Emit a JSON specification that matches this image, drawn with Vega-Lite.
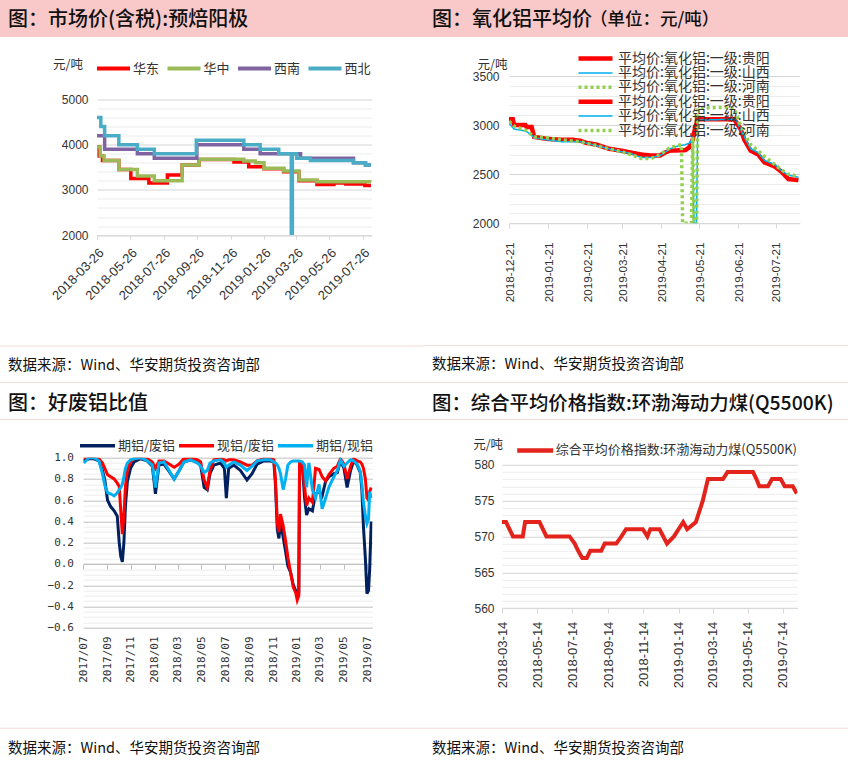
{
"$schema": "https://vega.github.io/schema/vega-lite/v6.json",
"background": "white",
"padding": 0,
"spacing": 10,
"resolve": {"scale": {"color": "independent", "strokeDash": "independent", "strokeWidth": "independent"}, "legend": {"color": "independent", "strokeDash": "independent", "strokeWidth": "independent"}},
"config": {
  "font": "Noto Sans CJK SC",
  "view": {"stroke": null},
  "axis": {"labelFont": "Liberation Sans", "labelFontSize": 12, "labelColor": "#333333", "titleFont": "Noto Sans CJK SC", "titleFontWeight": "normal", "titleColor": "#333333", "titleFontSize": 12.5, "domainColor": "#d9d9d9", "tickColor": "#d9d9d9", "labelFlush": false, "labelOverlap": false, "labelBound": false},
  "legend": {"labelFont": "Noto Sans CJK SC", "labelFontSize": 13, "labelColor": "#333333", "padding": 0, "labelLimit": 400, "symbolType": "stroke"},
  "title": {"font": "Noto Sans CJK SC", "fontSize": 20, "fontWeight": 500, "color": "#111111", "anchor": "start", "frame": "group"},
  "line": {"strokeCap": "butt"}
},
"vconcat": [
{"spacing": 0, "resolve": {"scale": {"color": "independent", "strokeDash": "independent", "strokeWidth": "independent"}, "legend": {"color": "independent", "strokeDash": "independent", "strokeWidth": "independent"}}, "hconcat": [
 {"spacing": 21.5, "resolve": {"scale": {"color": "independent"}, "legend": {"color": "independent"}}, "vconcat": [
  {"width": 424, "height": 37, "data": {"values": [{}]}, "mark": {"type": "point", "size": 0, "opacity": 0}, "view": {"fill": "#F9C8C8", "stroke": null},
   "title": {"text": "图：市场价(含税):预焙阳极", "orient": "bottom", "offset": -17, "baseline": "middle", "dx": 8}},
  {"spacing": 0, "resolve": {"scale": {"color": "independent"}, "legend": {"color": "independent"}}, "vconcat": [
   {"bounds": "flush", "spacing": 0, "resolve": {"scale": {"color": "independent"}, "legend": {"color": "independent"}}, "hconcat": [
    {"width": 96.5, "height": 245.3, "data": {"values": [{}]}, "mark": {"type": "point", "size": 0, "opacity": 0}, "view": {"fill": "white", "stroke": null}},
    {"width": 274.5, "height": 135.6,
    "data": {"values": [
     {"d":"2018/03/26","s":"华东","v":3950},{"d":"2018/03/30","s":"华东","v":3750},{"d":"2018/04/05","s":"华东","v":3650},{"d":"2018/05/05","s":"华东","v":3450},{"d":"2018/05/27","s":"华东","v":3250},{"d":"2018/06/29","s":"华东","v":3150},{"d":"2018/08/02","s":"华东","v":3330},{"d":"2018/08/29","s":"华东","v":3550},{"d":"2018/09/29","s":"华东","v":3670},{"d":"2018/12/02","s":"华东","v":3620},{"d":"2018/12/29","s":"华东","v":3510},{"d":"2019/01/26","s":"华东","v":3470},{"d":"2019/03/03","s":"华东","v":3400},{"d":"2019/03/31","s":"华东","v":3200},{"d":"2019/05/03","s":"华东","v":3120},{"d":"2019/06/03","s":"华东","v":3150},{"d":"2019/06/25","s":"华东","v":3130},{"d":"2019/07/30","s":"华东","v":3100},{"d":"2019/08/10","s":"华东","v":3100},
     {"d":"2018/03/26","s":"华中","v":3950},{"d":"2018/04/01","s":"华中","v":3750},{"d":"2018/04/08","s":"华中","v":3650},{"d":"2018/05/05","s":"华中","v":3450},{"d":"2018/06/08","s":"华中","v":3310},{"d":"2018/07/09","s":"华中","v":3200},{"d":"2018/08/29","s":"华中","v":3550},{"d":"2018/09/29","s":"华中","v":3680},{"d":"2018/12/20","s":"华中","v":3640},{"d":"2019/01/10","s":"华中","v":3600},{"d":"2019/01/26","s":"华中","v":3480},{"d":"2019/03/03","s":"华中","v":3420},{"d":"2019/03/31","s":"华中","v":3220},{"d":"2019/05/03","s":"华中","v":3180},{"d":"2019/08/10","s":"华中","v":3170},
     {"d":"2018/03/26","s":"西南","v":4200},{"d":"2018/04/09","s":"西南","v":3900},{"d":"2018/06/08","s":"西南","v":3800},{"d":"2018/07/09","s":"西南","v":3700},{"d":"2018/09/25","s":"西南","v":4000},{"d":"2018/12/20","s":"西南","v":3900},{"d":"2019/01/19","s":"西南","v":3800},{"d":"2019/04/03","s":"西南","v":3700},{"d":"2019/07/09","s":"西南","v":3600},{"d":"2019/07/31","s":"西南","v":3550},{"d":"2019/08/10","s":"西南","v":3550},
     {"d":"2018/03/26","s":"西北","v":4600},{"d":"2018/04/02","s":"西北","v":4400},{"d":"2018/04/09","s":"西北","v":4200},{"d":"2018/05/05","s":"西北","v":4000},{"d":"2018/06/08","s":"西北","v":3900},{"d":"2018/07/09","s":"西北","v":3800},{"d":"2018/09/24","s":"西北","v":4100},{"d":"2018/12/20","s":"西北","v":4000},{"d":"2019/01/19","s":"西北","v":3900},{"d":"2019/02/22","s":"西北","v":3800},{"d":"2019/03/17","s":"西北","v":2000},{"d":"2019/03/19","s":"西北","v":3800},{"d":"2019/03/27","s":"西北","v":3700},{"d":"2019/04/21","s":"西北","v":3650},{"d":"2019/07/09","s":"西北","v":3600},{"d":"2019/07/31","s":"西北","v":3550},{"d":"2019/08/10","s":"西北","v":3550}
    ]},
    "mark": {"type": "line", "interpolate": "step-after", "strokeWidth": 3.5, "clip": true},
    "encoding": {
     "x": {"field": "d", "type": "temporal", "scale": {"domain": [{"year":2018,"month":3,"date":26},{"year":2019,"month":8,"date":11}]},
      "axis": {"title": null, "grid": false, "format": "%Y-%m-%d", "labelAngle": -45, "labelFontSize": 13, "tickSize": 4, "labelPadding": 7,
       "values": [{"year":2018,"month":3,"date":26},{"year":2018,"month":5,"date":26},{"year":2018,"month":7,"date":26},{"year":2018,"month":9,"date":26},{"year":2018,"month":11,"date":26},{"year":2019,"month":1,"date":26},{"year":2019,"month":3,"date":26},{"year":2019,"month":5,"date":26},{"year":2019,"month":7,"date":26}]}},
     "y": {"field": "v", "type": "quantitative", "scale": {"domain": [2000, 5000], "nice": false, "zero": false},
      "axis": {"title": "元/吨", "titleAngle": 0, "titleAlign": "left", "titleBaseline": "middle", "titleX": -44.5, "titleY": -35,
       "values": [2000,2200,2400,2600,2800,3000,3200,3400,3600,3800,4000,4200,4400,4600,4800,5000], "format": "d",
       "labelExpr": "datum.value % 1000 === 0 ? datum.label : ''",
       "gridColor": {"condition": {"test": "datum.value % 1000 === 0", "value": "#d4d4d4"}, "value": "#ececec"},
       "ticks": false, "domain": false, "labelPadding": 9}},
     "color": {"field": "s", "type": "nominal", "scale": {"domain": ["华东","华中","西南","西北"], "range": ["#FF0000","#9BBB59","#8064A2","#4BACC6"]},
      "legend": {"title": null, "orient": "none", "legendX": -2, "legendY": -38, "direction": "horizontal", "symbolSize": 1089, "symbolStrokeWidth": 4, "labelOffset": 1, "columnPadding": 5.5, "clipHeight": 14}}
    }
   }]},
   {"width": 424, "height": 1, "data": {"values": [{}]}, "mark": {"type": "point", "size": 0, "opacity": 0}, "view": {"fill": "#F2DCDC", "stroke": null},
    "title": {"text": "数据来源：Wind、华安期货投资咨询部", "orient": "bottom", "offset": 19, "baseline": "middle", "dx": 8, "fontSize": 14.5, "fontWeight": "normal"}}
  ]}
 ]},
 {"spacing": 15, "resolve": {"scale": {"color": "independent", "strokeDash": "independent", "strokeWidth": "independent"}, "legend": {"color": "independent", "strokeDash": "independent", "strokeWidth": "independent"}}, "vconcat": [
  {"bounds": "flush", "spacing": 0, "hconcat": [
   {"width": 168, "height": 37, "data": {"values": [{}]}, "mark": {"type": "point", "size": 0, "opacity": 0}, "view": {"fill": "#F9C8C8", "stroke": null},
    "title": {"text": "图：氧化铝平均价", "orient": "bottom", "offset": -17, "baseline": "middle", "dx": 8}},
   {"width": 256, "height": 37, "data": {"values": [{}]}, "mark": {"type": "point", "size": 0, "opacity": 0}, "view": {"fill": "#F9C8C8", "stroke": null},
    "title": {"text": "（单位：元/吨）", "orient": "bottom", "offset": -17.5, "baseline": "middle", "dx": -2, "fontSize": 17.5}}
  ]},
  {"spacing": 0, "resolve": {"scale": {"color": "independent", "strokeDash": "independent", "strokeWidth": "independent"}, "legend": {"color": "independent", "strokeDash": "independent", "strokeWidth": "independent"}}, "vconcat": [
   {"bounds": "flush", "spacing": 0, "resolve": {"scale": {"color": "independent", "strokeDash": "independent", "strokeWidth": "independent"}, "legend": {"color": "independent", "strokeDash": "independent", "strokeWidth": "independent"}}, "hconcat": [
    {"width": 84.3, "height": 269, "data": {"values": [{}]}, "mark": {"type": "point", "size": 0, "opacity": 0}, "view": {"fill": "white", "stroke": null}},
    {"width": 290.7, "height": 147.3,
    "data": {"values": [
     {"d":"2018/12/21","s":"平均价:氧化铝:一级:贵阳","v":3060},{"d":"2018/12/24","s":"平均价:氧化铝:一级:贵阳","v":3060},{"d":"2018/12/25","s":"平均价:氧化铝:一级:贵阳","v":3000},{"d":"2019/01/03","s":"平均价:氧化铝:一级:贵阳","v":3000},{"d":"2019/01/04","s":"平均价:氧化铝:一级:贵阳","v":2980},{"d":"2019/01/08","s":"平均价:氧化铝:一级:贵阳","v":2980},{"d":"2019/01/10","s":"平均价:氧化铝:一级:贵阳","v":2880},{"d":"2019/01/20","s":"平均价:氧化铝:一级:贵阳","v":2860},{"d":"2019/02/01","s":"平均价:氧化铝:一级:贵阳","v":2850},{"d":"2019/02/10","s":"平均价:氧化铝:一级:贵阳","v":2850},{"d":"2019/02/16","s":"平均价:氧化铝:一级:贵阳","v":2840},{"d":"2019/02/20","s":"平均价:氧化铝:一级:贵阳","v":2820},{"d":"2019/03/01","s":"平均价:氧化铝:一级:贵阳","v":2800},{"d":"2019/03/10","s":"平均价:氧化铝:一级:贵阳","v":2760},{"d":"2019/03/20","s":"平均价:氧化铝:一级:贵阳","v":2740},{"d":"2019/03/28","s":"平均价:氧化铝:一级:贵阳","v":2720},{"d":"2019/04/05","s":"平均价:氧化铝:一级:贵阳","v":2700},{"d":"2019/04/13","s":"平均价:氧化铝:一级:贵阳","v":2690},{"d":"2019/04/20","s":"平均价:氧化铝:一级:贵阳","v":2690},{"d":"2019/04/24","s":"平均价:氧化铝:一级:贵阳","v":2720},{"d":"2019/04/28","s":"平均价:氧化铝:一级:贵阳","v":2740},{"d":"2019/05/10","s":"平均价:氧化铝:一级:贵阳","v":2745},{"d":"2019/05/13","s":"平均价:氧化铝:一级:贵阳","v":2770},{"d":"2019/05/16","s":"平均价:氧化铝:一级:贵阳","v":2850},{"d":"2019/05/18","s":"平均价:氧化铝:一级:贵阳","v":2980},{"d":"2019/05/20","s":"平均价:氧化铝:一级:贵阳","v":3060},{"d":"2019/06/18","s":"平均价:氧化铝:一级:贵阳","v":3060},{"d":"2019/06/20","s":"平均价:氧化铝:一级:贵阳","v":3020},{"d":"2019/06/23","s":"平均价:氧化铝:一级:贵阳","v":2960},{"d":"2019/06/26","s":"平均价:氧化铝:一级:贵阳","v":2850},{"d":"2019/07/01","s":"平均价:氧化铝:一级:贵阳","v":2740},{"d":"2019/07/07","s":"平均价:氧化铝:一级:贵阳","v":2700},{"d":"2019/07/12","s":"平均价:氧化铝:一级:贵阳","v":2620},{"d":"2019/07/20","s":"平均价:氧化铝:一级:贵阳","v":2580},{"d":"2019/07/26","s":"平均价:氧化铝:一级:贵阳","v":2520},{"d":"2019/07/31","s":"平均价:氧化铝:一级:贵阳","v":2450},{"d":"2019/08/08","s":"平均价:氧化铝:一级:贵阳","v":2440},
     {"d":"2018/12/21","s":"平均价:氧化铝:一级:山西","v":3020},{"d":"2018/12/25","s":"平均价:氧化铝:一级:山西","v":2960},{"d":"2019/01/03","s":"平均价:氧化铝:一级:山西","v":2940},{"d":"2019/01/08","s":"平均价:氧化铝:一级:山西","v":2900},{"d":"2019/01/10","s":"平均价:氧化铝:一级:山西","v":2870},{"d":"2019/01/20","s":"平均价:氧化铝:一级:山西","v":2850},{"d":"2019/02/01","s":"平均价:氧化铝:一级:山西","v":2830},{"d":"2019/02/16","s":"平均价:氧化铝:一级:山西","v":2830},{"d":"2019/03/01","s":"平均价:氧化铝:一级:山西","v":2790},{"d":"2019/03/10","s":"平均价:氧化铝:一级:山西","v":2760},{"d":"2019/03/20","s":"平均价:氧化铝:一级:山西","v":2730},{"d":"2019/03/28","s":"平均价:氧化铝:一级:山西","v":2710},{"d":"2019/04/05","s":"平均价:氧化铝:一级:山西","v":2670},{"d":"2019/04/13","s":"平均价:氧化铝:一级:山西","v":2670},{"d":"2019/04/20","s":"平均价:氧化铝:一级:山西","v":2690},{"d":"2019/04/28","s":"平均价:氧化铝:一级:山西","v":2760},{"d":"2019/05/05","s":"平均价:氧化铝:一级:山西","v":2790},{"d":"2019/05/10","s":"平均价:氧化铝:一级:山西","v":2800},{"d":"2019/05/14","s":"平均价:氧化铝:一级:山西","v":2820},{"d":"2019/05/16","s":"平均价:氧化铝:一级:山西","v":2880},{"d":"2019/05/17","s":"平均价:氧化铝:一级:山西","v":2000},{"d":"2019/05/19","s":"平均价:氧化铝:一级:山西","v":2000},{"d":"2019/05/20","s":"平均价:氧化铝:一级:山西","v":3050},{"d":"2019/06/18","s":"平均价:氧化铝:一级:山西","v":3060},{"d":"2019/06/20","s":"平均价:氧化铝:一级:山西","v":3040},{"d":"2019/06/23","s":"平均价:氧化铝:一级:山西","v":2960},{"d":"2019/06/26","s":"平均价:氧化铝:一级:山西","v":2880},{"d":"2019/07/01","s":"平均价:氧化铝:一级:山西","v":2760},{"d":"2019/07/07","s":"平均价:氧化铝:一级:山西","v":2720},{"d":"2019/07/12","s":"平均价:氧化铝:一级:山西","v":2640},{"d":"2019/07/20","s":"平均价:氧化铝:一级:山西","v":2600},{"d":"2019/07/26","s":"平均价:氧化铝:一级:山西","v":2530},{"d":"2019/07/31","s":"平均价:氧化铝:一级:山西","v":2490},{"d":"2019/08/08","s":"平均价:氧化铝:一级:山西","v":2470},
     {"d":"2018/12/21","s":"平均价:氧化铝:一级:河南","v":3040},{"d":"2018/12/25","s":"平均价:氧化铝:一级:河南","v":2990},{"d":"2019/01/03","s":"平均价:氧化铝:一级:河南","v":2950},{"d":"2019/01/08","s":"平均价:氧化铝:一级:河南","v":2900},{"d":"2019/01/10","s":"平均价:氧化铝:一级:河南","v":2880},{"d":"2019/01/20","s":"平均价:氧化铝:一级:河南","v":2870},{"d":"2019/02/01","s":"平均价:氧化铝:一级:河南","v":2850},{"d":"2019/02/16","s":"平均价:氧化铝:一级:河南","v":2830},{"d":"2019/03/01","s":"平均价:氧化铝:一级:河南","v":2790},{"d":"2019/03/10","s":"平均价:氧化铝:一级:河南","v":2760},{"d":"2019/03/20","s":"平均价:氧化铝:一级:河南","v":2730},{"d":"2019/03/28","s":"平均价:氧化铝:一级:河南","v":2700},{"d":"2019/04/05","s":"平均价:氧化铝:一级:河南","v":2660},{"d":"2019/04/13","s":"平均价:氧化铝:一级:河南","v":2660},{"d":"2019/04/20","s":"平均价:氧化铝:一级:河南","v":2700},{"d":"2019/04/28","s":"平均价:氧化铝:一级:河南","v":2770},{"d":"2019/05/03","s":"平均价:氧化铝:一级:河南","v":2790},{"d":"2019/05/07","s":"平均价:氧化铝:一级:河南","v":2800},{"d":"2019/05/08","s":"平均价:氧化铝:一级:河南","v":2000},{"d":"2019/05/15","s":"平均价:氧化铝:一级:河南","v":2000},{"d":"2019/05/16","s":"平均价:氧化铝:一级:河南","v":2880},{"d":"2019/05/17","s":"平均价:氧化铝:一级:河南","v":2000},{"d":"2019/05/19","s":"平均价:氧化铝:一级:河南","v":2000},{"d":"2019/05/20","s":"平均价:氧化铝:一级:河南","v":3170},{"d":"2019/06/05","s":"平均价:氧化铝:一级:河南","v":3180},{"d":"2019/06/14","s":"平均价:氧化铝:一级:河南","v":3180},{"d":"2019/06/18","s":"平均价:氧化铝:一级:河南","v":3170},{"d":"2019/06/20","s":"平均价:氧化铝:一级:河南","v":3100},{"d":"2019/06/23","s":"平均价:氧化铝:一级:河南","v":3000},{"d":"2019/06/27","s":"平均价:氧化铝:一级:河南","v":2890},{"d":"2019/07/01","s":"平均价:氧化铝:一级:河南","v":2800},{"d":"2019/07/07","s":"平均价:氧化铝:一级:河南","v":2740},{"d":"2019/07/12","s":"平均价:氧化铝:一级:河南","v":2680},{"d":"2019/07/20","s":"平均价:氧化铝:一级:河南","v":2600},{"d":"2019/07/26","s":"平均价:氧化铝:一级:河南","v":2540},{"d":"2019/07/31","s":"平均价:氧化铝:一级:河南","v":2500},{"d":"2019/08/08","s":"平均价:氧化铝:一级:河南","v":2480}
    ]},
    "mark": {"type": "line", "clip": true},
    "encoding": {
     "x": {"field": "d", "type": "temporal", "scale": {"domain": [{"year":2018,"month":12,"date":21},{"year":2019,"month":8,"date":9}]},
      "axis": {"title": null, "grid": false, "format": "%Y-%m-%d", "labelAngle": -90, "labelFontSize": 11.7, "tickSize": 5, "labelPadding": 13.7,
       "values": [{"year":2018,"month":12,"date":21},{"year":2019,"month":1,"date":21},{"year":2019,"month":2,"date":21},{"year":2019,"month":3,"date":21},{"year":2019,"month":4,"date":21},{"year":2019,"month":5,"date":21},{"year":2019,"month":6,"date":21},{"year":2019,"month":7,"date":21}]}},
     "y": {"field": "v", "type": "quantitative", "scale": {"domain": [2000, 3500], "nice": false, "zero": false},
      "axis": {"title": "元/吨", "titleAngle": 0, "titleAlign": "left", "titleBaseline": "middle", "titleX": -32, "titleY": -12,
       "values": [2000,2100,2200,2300,2400,2500,2600,2700,2800,2900,3000,3100,3200,3300,3400,3500], "format": "d",
       "labelExpr": "datum.value % 500 === 0 ? datum.label : ''",
       "gridColor": {"condition": {"test": "datum.value % 500 === 0", "value": "#d4d4d4"}, "value": "#ececec"},
       "ticks": false, "domain": false, "labelPadding": 10}},
     "color": {"field": "s", "type": "nominal",
      "scale": {"domain": ["平均价:氧化铝:一级:贵阳","平均价:氧化铝:一级:山西","平均价:氧化铝:一级:河南","平均价:氧化铝:一级:贵阳 ","平均价:氧化铝:一级:山西 ","平均价:氧化铝:一级:河南 "], "range": ["#FF0000","#00B0F0","#92D050","#FF0000","#00B0F0","#92D050"]},
      "legend": {"title": null, "orient": "none", "legendX": 67, "legendY": -24, "direction": "vertical", "symbolSize": 1156, "labelFontSize": 14, "labelOffset": 3, "clipHeight": 13, "rowPadding": -0.6}},
     "strokeDash": {"field": "s", "type": "nominal",
      "scale": {"domain": ["平均价:氧化铝:一级:贵阳","平均价:氧化铝:一级:山西","平均价:氧化铝:一级:河南","平均价:氧化铝:一级:贵阳 ","平均价:氧化铝:一级:山西 ","平均价:氧化铝:一级:河南 "], "range": [[1,0],[1,0],[3,3],[1,0],[1,0],[3,3]]}},
     "strokeWidth": {"field": "s", "type": "nominal",
      "scale": {"type": "ordinal", "domain": ["平均价:氧化铝:一级:贵阳","平均价:氧化铝:一级:山西","平均价:氧化铝:一级:河南","平均价:氧化铝:一级:贵阳 ","平均价:氧化铝:一级:山西 ","平均价:氧化铝:一级:河南 "], "range": [4.5,1.5,3.5,4.5,1.5,3.5]}}
    }
   }]},
   {"width": 424, "height": 1, "data": {"values": [{}]}, "mark": {"type": "point", "size": 0, "opacity": 0}, "view": {"fill": "#F2DCDC", "stroke": null},
    "title": {"text": "数据来源：Wind、华安期货投资咨询部", "orient": "bottom", "offset": 19, "baseline": "middle", "dx": 8, "fontSize": 14.5, "fontWeight": "normal"}}
  ]}
 ]}
]},
{"spacing": 0, "resolve": {"scale": {"color": "independent"}, "legend": {"color": "independent"}}, "hconcat": [
 {"spacing": 18.7, "resolve": {"scale": {"color": "independent"}, "legend": {"color": "independent"}}, "vconcat": [
  {"spacing": 0, "vconcat": [
   {"width": 424, "height": 1, "data": {"values": [{}]}, "mark": {"type": "point", "size": 0, "opacity": 0}, "view": {"fill": "#F2DCDC", "stroke": null}},
   {"width": 424, "height": 36, "data": {"values": [{}]}, "mark": {"type": "point", "size": 0, "opacity": 0}, "view": {"fill": "white", "stroke": null},
    "title": {"text": "图：好废铝比值", "orient": "bottom", "offset": -15, "baseline": "middle", "dx": 8}},
   {"width": 424, "height": 1, "data": {"values": [{}]}, "mark": {"type": "point", "size": 0, "opacity": 0}, "view": {"fill": "#F2DCDC", "stroke": null}}
  ]},
  {"spacing": 0, "resolve": {"scale": {"color": "independent"}, "legend": {"color": "independent"}}, "vconcat": [
   {"bounds": "flush", "spacing": 0, "resolve": {"scale": {"color": "independent"}, "legend": {"color": "independent"}}, "hconcat": [
    {"width": 82.3, "height": 269.3, "data": {"values": [{}]}, "mark": {"type": "point", "size": 0, "opacity": 0}, "view": {"fill": "white", "stroke": null}},
    {"width": 289.4, "height": 170,
    "data": {"values": [
{"d":"2017/07/03","s":"期铝/废铝","v":0.97},{"d":"2017/07/16","s":"期铝/废铝","v":0.99},{"d":"2017/07/29","s":"期铝/废铝","v":0.99},{"d":"2017/08/11","s":"期铝/废铝","v":0.97},{"d":"2017/08/20","s":"期铝/废铝","v":0.88},{"d":"2017/08/26","s":"期铝/废铝","v":0.79},{"d":"2017/09/02","s":"期铝/废铝","v":0.60},{"d":"2017/09/10","s":"期铝/废铝","v":0.54},{"d":"2017/09/19","s":"期铝/废铝","v":0.50},{"d":"2017/09/27","s":"期铝/废铝","v":0.45},
{"d":"2017/10/02","s":"期铝/废铝","v":0.20},{"d":"2017/10/06","s":"期铝/废铝","v":0.07},{"d":"2017/10/10","s":"期铝/废铝","v":0.02},{"d":"2017/10/14","s":"期铝/废铝","v":0.20},{"d":"2017/10/18","s":"期铝/废铝","v":0.55},{"d":"2017/10/23","s":"期铝/废铝","v":0.78},{"d":"2017/10/31","s":"期铝/废铝","v":0.90},{"d":"2017/11/09","s":"期铝/废铝","v":0.96},{"d":"2017/11/26","s":"期铝/废铝","v":0.99},{"d":"2017/12/13","s":"期铝/废铝","v":0.97},
{"d":"2017/12/26","s":"期铝/废铝","v":0.92},{"d":"2018/01/03","s":"期铝/废铝","v":0.66},{"d":"2018/01/12","s":"期铝/废铝","v":0.93},{"d":"2018/01/25","s":"期铝/废铝","v":0.94},{"d":"2018/02/07","s":"期铝/废铝","v":0.87},{"d":"2018/02/20","s":"期铝/废铝","v":0.80},{"d":"2018/03/05","s":"期铝/废铝","v":0.88},{"d":"2018/03/17","s":"期铝/废铝","v":0.96},{"d":"2018/04/03","s":"期铝/废铝","v":0.98},{"d":"2018/04/21","s":"期铝/废铝","v":0.96},
{"d":"2018/04/29","s":"期铝/废铝","v":0.93},{"d":"2018/05/08","s":"期铝/废铝","v":0.72},{"d":"2018/05/16","s":"期铝/废铝","v":0.70},{"d":"2018/05/23","s":"期铝/废铝","v":0.85},{"d":"2018/06/02","s":"期铝/废铝","v":0.93},{"d":"2018/06/19","s":"期铝/废铝","v":0.95},{"d":"2018/06/29","s":"期铝/废铝","v":0.90},{"d":"2018/07/04","s":"期铝/废铝","v":0.62},{"d":"2018/07/10","s":"期铝/废铝","v":0.90},{"d":"2018/07/23","s":"期铝/废铝","v":0.93},
{"d":"2018/08/09","s":"期铝/废铝","v":0.88},{"d":"2018/08/26","s":"期铝/废铝","v":0.79},{"d":"2018/09/08","s":"期铝/废铝","v":0.85},{"d":"2018/09/21","s":"期铝/废铝","v":0.94},{"d":"2018/10/08","s":"期铝/废铝","v":0.97},{"d":"2018/10/25","s":"期铝/废铝","v":0.97},{"d":"2018/11/03","s":"期铝/废铝","v":0.96},{"d":"2018/11/07","s":"期铝/废铝","v":0.75},{"d":"2018/11/12","s":"期铝/废铝","v":0.32},{"d":"2018/11/16","s":"期铝/废铝","v":0.24},
{"d":"2018/11/20","s":"期铝/废铝","v":0.40},{"d":"2018/11/27","s":"期铝/废铝","v":0.25},{"d":"2018/12/03","s":"期铝/废铝","v":0.12},{"d":"2018/12/09","s":"期铝/废铝","v":-0.02},{"d":"2018/12/16","s":"期铝/废铝","v":-0.08},{"d":"2018/12/23","s":"期铝/废铝","v":-0.20},{"d":"2018/12/29","s":"期铝/废铝","v":-0.25},{"d":"2019/01/02","s":"期铝/废铝","v":-0.30},{"d":"2019/01/06","s":"期铝/废铝","v":-0.27},{"d":"2019/01/08","s":"期铝/废铝","v":0.93},
{"d":"2019/01/15","s":"期铝/废铝","v":0.93},{"d":"2019/01/21","s":"期铝/废铝","v":0.62},{"d":"2019/01/26","s":"期铝/废铝","v":0.46},{"d":"2019/02/01","s":"期铝/废铝","v":0.52},{"d":"2019/02/10","s":"期铝/废铝","v":0.50},{"d":"2019/02/18","s":"期铝/废铝","v":0.66},{"d":"2019/02/27","s":"期铝/废铝","v":0.68},{"d":"2019/03/07","s":"期铝/废铝","v":0.64},{"d":"2019/03/16","s":"期铝/废铝","v":0.78},{"d":"2019/03/24","s":"期铝/废铝","v":0.82},
{"d":"2019/04/06","s":"期铝/废铝","v":0.85},{"d":"2019/04/15","s":"期铝/废铝","v":0.86},{"d":"2019/04/23","s":"期铝/废铝","v":0.97},{"d":"2019/05/02","s":"期铝/废铝","v":0.90},{"d":"2019/05/10","s":"期铝/废铝","v":0.72},{"d":"2019/05/19","s":"期铝/废铝","v":0.88},{"d":"2019/05/27","s":"期铝/废铝","v":0.97},{"d":"2019/06/05","s":"期铝/废铝","v":0.93},{"d":"2019/06/13","s":"期铝/废铝","v":0.86},{"d":"2019/06/17","s":"期铝/废铝","v":0.70},
{"d":"2019/06/21","s":"期铝/废铝","v":0.35},{"d":"2019/06/26","s":"期铝/废铝","v":0.05},{"d":"2019/06/30","s":"期铝/废铝","v":-0.28},{"d":"2019/07/04","s":"期铝/废铝","v":-0.25},{"d":"2019/07/07","s":"期铝/废铝","v":-0.05},{"d":"2019/07/11","s":"期铝/废铝","v":0.40},
{"d":"2017/07/03","s":"现铝/废铝","v":1.00},{"d":"2017/07/16","s":"现铝/废铝","v":1.00},{"d":"2017/07/29","s":"现铝/废铝","v":1.00},{"d":"2017/08/11","s":"现铝/废铝","v":0.99},{"d":"2017/08/20","s":"现铝/废铝","v":0.95},{"d":"2017/08/26","s":"现铝/废铝","v":0.90},{"d":"2017/09/02","s":"现铝/废铝","v":0.84},{"d":"2017/09/10","s":"现铝/废铝","v":0.82},{"d":"2017/09/19","s":"现铝/废铝","v":0.80},{"d":"2017/09/27","s":"现铝/废铝","v":0.76},
{"d":"2017/10/02","s":"现铝/废铝","v":0.73},{"d":"2017/10/06","s":"现铝/废铝","v":0.50},{"d":"2017/10/10","s":"现铝/废铝","v":0.28},{"d":"2017/10/14","s":"现铝/废铝","v":0.45},{"d":"2017/10/18","s":"现铝/废铝","v":0.73},{"d":"2017/10/23","s":"现铝/废铝","v":0.88},{"d":"2017/10/31","s":"现铝/废铝","v":0.96},{"d":"2017/11/09","s":"现铝/废铝","v":0.99},{"d":"2017/11/26","s":"现铝/废铝","v":1.00},{"d":"2017/12/13","s":"现铝/废铝","v":0.99},
{"d":"2017/12/26","s":"现铝/废铝","v":0.96},{"d":"2018/01/03","s":"现铝/废铝","v":0.90},{"d":"2018/01/12","s":"现铝/废铝","v":0.97},{"d":"2018/01/25","s":"现铝/废铝","v":0.97},{"d":"2018/02/07","s":"现铝/废铝","v":0.94},{"d":"2018/02/20","s":"现铝/废铝","v":0.91},{"d":"2018/03/05","s":"现铝/废铝","v":0.94},{"d":"2018/03/17","s":"现铝/废铝","v":0.99},{"d":"2018/04/03","s":"现铝/废铝","v":1.00},{"d":"2018/04/21","s":"现铝/废铝","v":0.98},
{"d":"2018/04/29","s":"现铝/废铝","v":0.96},{"d":"2018/05/08","s":"现铝/废铝","v":0.79},{"d":"2018/05/16","s":"现铝/废铝","v":0.72},{"d":"2018/05/23","s":"现铝/废铝","v":0.88},{"d":"2018/06/02","s":"现铝/废铝","v":0.98},{"d":"2018/06/19","s":"现铝/废铝","v":0.99},{"d":"2018/06/29","s":"现铝/废铝","v":0.98},{"d":"2018/07/04","s":"现铝/废铝","v":0.97},{"d":"2018/07/10","s":"现铝/废铝","v":0.98},{"d":"2018/07/23","s":"现铝/废铝","v":0.98},
{"d":"2018/08/09","s":"现铝/废铝","v":0.96},{"d":"2018/08/26","s":"现铝/废铝","v":0.93},{"d":"2018/09/08","s":"现铝/废铝","v":0.93},{"d":"2018/09/21","s":"现铝/废铝","v":0.97},{"d":"2018/10/08","s":"现铝/废铝","v":0.99},{"d":"2018/10/25","s":"现铝/废铝","v":0.99},{"d":"2018/11/03","s":"现铝/废铝","v":0.98},{"d":"2018/11/07","s":"现铝/废铝","v":0.80},{"d":"2018/11/12","s":"现铝/废铝","v":0.38},{"d":"2018/11/16","s":"现铝/废铝","v":0.30},
{"d":"2018/11/20","s":"现铝/废铝","v":0.47},{"d":"2018/11/27","s":"现铝/废铝","v":0.36},{"d":"2018/12/03","s":"现铝/废铝","v":0.22},{"d":"2018/12/09","s":"现铝/废铝","v":0.06},{"d":"2018/12/16","s":"现铝/废铝","v":-0.08},{"d":"2018/12/23","s":"现铝/废铝","v":-0.22},{"d":"2018/12/29","s":"现铝/废铝","v":-0.27},{"d":"2019/01/02","s":"现铝/废铝","v":-0.34},{"d":"2019/01/06","s":"现铝/废铝","v":-0.30},{"d":"2019/01/08","s":"现铝/废铝","v":0.95},
{"d":"2019/01/15","s":"现铝/废铝","v":0.95},{"d":"2019/01/21","s":"现铝/废铝","v":0.72},{"d":"2019/01/26","s":"现铝/废铝","v":0.55},{"d":"2019/02/01","s":"现铝/废铝","v":0.62},{"d":"2019/02/10","s":"现铝/废铝","v":0.58},{"d":"2019/02/18","s":"现铝/废铝","v":0.90},{"d":"2019/02/27","s":"现铝/废铝","v":0.89},{"d":"2019/03/07","s":"现铝/废铝","v":0.82},{"d":"2019/03/16","s":"现铝/废铝","v":0.78},{"d":"2019/03/24","s":"现铝/废铝","v":0.84},
{"d":"2019/04/06","s":"现铝/废铝","v":0.90},{"d":"2019/04/15","s":"现铝/废铝","v":0.92},{"d":"2019/04/23","s":"现铝/废铝","v":0.99},{"d":"2019/05/02","s":"现铝/废铝","v":0.94},{"d":"2019/05/10","s":"现铝/废铝","v":0.80},{"d":"2019/05/19","s":"现铝/废铝","v":0.92},{"d":"2019/05/27","s":"现铝/废铝","v":0.99},{"d":"2019/06/05","s":"现铝/废铝","v":0.97},{"d":"2019/06/13","s":"现铝/废铝","v":0.96},{"d":"2019/06/17","s":"现铝/废铝","v":0.94},
{"d":"2019/06/21","s":"现铝/废铝","v":0.90},{"d":"2019/06/26","s":"现铝/废铝","v":0.80},{"d":"2019/06/30","s":"现铝/废铝","v":0.62},{"d":"2019/07/04","s":"现铝/废铝","v":0.60},{"d":"2019/07/07","s":"现铝/废铝","v":0.68},{"d":"2019/07/11","s":"现铝/废铝","v":0.72},
{"d":"2017/07/03","s":"期铝/现铝","v":0.95},{"d":"2017/07/16","s":"期铝/现铝","v":1.00},{"d":"2017/07/29","s":"期铝/现铝","v":1.00},{"d":"2017/08/11","s":"期铝/现铝","v":0.97},{"d":"2017/08/20","s":"期铝/现铝","v":0.85},{"d":"2017/08/26","s":"期铝/现铝","v":0.74},{"d":"2017/09/02","s":"期铝/现铝","v":0.67},{"d":"2017/09/10","s":"期铝/现铝","v":0.66},{"d":"2017/09/19","s":"期铝/现铝","v":0.64},{"d":"2017/09/27","s":"期铝/现铝","v":0.67},
{"d":"2017/10/02","s":"期铝/现铝","v":0.70},{"d":"2017/10/06","s":"期铝/现铝","v":0.72},{"d":"2017/10/10","s":"期铝/现铝","v":0.75},{"d":"2017/10/14","s":"期铝/现铝","v":0.82},{"d":"2017/10/18","s":"期铝/现铝","v":0.90},{"d":"2017/10/23","s":"期铝/现铝","v":0.95},{"d":"2017/10/31","s":"期铝/现铝","v":0.98},{"d":"2017/11/09","s":"期铝/现铝","v":0.99},{"d":"2017/11/26","s":"期铝/现铝","v":1.00},{"d":"2017/12/13","s":"期铝/现铝","v":0.97},
{"d":"2017/12/26","s":"期铝/现铝","v":0.93},{"d":"2018/01/03","s":"期铝/现铝","v":0.72},{"d":"2018/01/12","s":"期铝/现铝","v":0.95},{"d":"2018/01/25","s":"期铝/现铝","v":0.96},{"d":"2018/02/07","s":"期铝/现铝","v":0.88},{"d":"2018/02/20","s":"期铝/现铝","v":0.80},{"d":"2018/03/05","s":"期铝/现铝","v":0.88},{"d":"2018/03/17","s":"期铝/现铝","v":0.96},{"d":"2018/04/03","s":"期铝/现铝","v":0.98},{"d":"2018/04/21","s":"期铝/现铝","v":0.95},
{"d":"2018/04/29","s":"期铝/现铝","v":0.92},{"d":"2018/05/08","s":"期铝/现铝","v":0.86},{"d":"2018/05/16","s":"期铝/现铝","v":0.88},{"d":"2018/05/23","s":"期铝/现铝","v":0.95},{"d":"2018/06/02","s":"期铝/现铝","v":0.97},{"d":"2018/06/19","s":"期铝/现铝","v":0.98},{"d":"2018/06/29","s":"期铝/现铝","v":0.95},{"d":"2018/07/04","s":"期铝/现铝","v":0.91},{"d":"2018/07/10","s":"期铝/现铝","v":0.93},{"d":"2018/07/23","s":"期铝/现铝","v":0.96},
{"d":"2018/08/09","s":"期铝/现铝","v":0.93},{"d":"2018/08/26","s":"期铝/现铝","v":0.88},{"d":"2018/09/08","s":"期铝/现铝","v":0.92},{"d":"2018/09/21","s":"期铝/现铝","v":0.97},{"d":"2018/10/08","s":"期铝/现铝","v":0.98},{"d":"2018/10/25","s":"期铝/现铝","v":0.98},{"d":"2018/11/03","s":"期铝/现铝","v":0.96},{"d":"2018/11/07","s":"期铝/现铝","v":0.95},{"d":"2018/11/12","s":"期铝/现铝","v":0.93},{"d":"2018/11/16","s":"期铝/现铝","v":0.90},
{"d":"2018/11/20","s":"期铝/现铝","v":0.85},{"d":"2018/11/27","s":"期铝/现铝","v":0.70},{"d":"2018/12/03","s":"期铝/现铝","v":0.80},{"d":"2018/12/09","s":"期铝/现铝","v":0.93},{"d":"2018/12/16","s":"期铝/现铝","v":0.96},{"d":"2018/12/23","s":"期铝/现铝","v":0.97},{"d":"2018/12/29","s":"期铝/现铝","v":0.97},{"d":"2019/01/02","s":"期铝/现铝","v":0.97},{"d":"2019/01/06","s":"期铝/现铝","v":0.97},{"d":"2019/01/08","s":"期铝/现铝","v":0.97},
{"d":"2019/01/15","s":"期铝/现铝","v":0.96},{"d":"2019/01/21","s":"期铝/现铝","v":0.93},{"d":"2019/01/26","s":"期铝/现铝","v":0.72},{"d":"2019/02/01","s":"期铝/现铝","v":0.95},{"d":"2019/02/10","s":"期铝/现铝","v":0.70},{"d":"2019/02/18","s":"期铝/现铝","v":0.62},{"d":"2019/02/27","s":"期铝/现铝","v":0.75},{"d":"2019/03/07","s":"期铝/现铝","v":0.52},{"d":"2019/03/16","s":"期铝/现铝","v":0.62},{"d":"2019/03/24","s":"期铝/现铝","v":0.72},
{"d":"2019/04/06","s":"期铝/现铝","v":0.82},{"d":"2019/04/15","s":"期铝/现铝","v":0.88},{"d":"2019/04/23","s":"期铝/现铝","v":0.98},{"d":"2019/05/02","s":"期铝/现铝","v":0.92},{"d":"2019/05/10","s":"期铝/现铝","v":0.95},{"d":"2019/05/19","s":"期铝/现铝","v":0.98},{"d":"2019/05/27","s":"期铝/现铝","v":0.97},{"d":"2019/06/05","s":"期铝/现铝","v":0.94},{"d":"2019/06/13","s":"期铝/现铝","v":0.87},{"d":"2019/06/17","s":"期铝/现铝","v":0.75},
{"d":"2019/06/21","s":"期铝/现铝","v":0.58},{"d":"2019/06/26","s":"期铝/现铝","v":0.45},{"d":"2019/06/30","s":"期铝/现铝","v":0.38},{"d":"2019/07/04","s":"期铝/现铝","v":0.42},{"d":"2019/07/07","s":"期铝/现铝","v":0.68},{"d":"2019/07/11","s":"期铝/现铝","v":0.62}
    ]},
    "mark": {"type": "line", "strokeWidth": 3, "clip": true},
    "encoding": {
     "x": {"field": "d", "type": "temporal", "scale": {"domain": [{"year":2017,"month":7,"date":1},{"year":2019,"month":7,"date":14}]},
      "axis": {"title": null, "grid": false, "format": "%Y/%m", "labelAngle": -90, "labelFont": "DejaVu Sans Mono", "labelFontSize": 11, "offset": -63.75, "tickSize": 5, "labelPadding": 67, "domainColor": "#bfbfbf", "tickColor": "#bfbfbf",
       "values": [{"year":2017,"month":7,"date":1},{"year":2017,"month":9,"date":1},{"year":2017,"month":11,"date":1},{"year":2018,"month":1,"date":1},{"year":2018,"month":3,"date":1},{"year":2018,"month":5,"date":1},{"year":2018,"month":7,"date":1},{"year":2018,"month":9,"date":1},{"year":2018,"month":11,"date":1},{"year":2019,"month":1,"date":1},{"year":2019,"month":3,"date":1},{"year":2019,"month":5,"date":1},{"year":2019,"month":7,"date":1}]}},
     "y": {"field": "v", "type": "quantitative", "scale": {"domain": [-0.6, 1.0], "nice": false, "zero": false},
      "axis": {"title": null, "format": ".1f", "labelFont": "DejaVu Sans Mono", "labelFontSize": 11,
       "values": [-0.6,-0.55,-0.5,-0.45,-0.4,-0.35,-0.3,-0.25,-0.2,-0.15,-0.1,-0.05,0,0.05,0.1,0.15,0.2,0.25,0.3,0.35,0.4,0.45,0.5,0.55,0.6,0.65,0.7,0.75,0.8,0.85,0.9,0.95,1],
       "labelExpr": "abs(round(datum.value*100)) % 20 === 0 ? datum.label : ''",
       "gridColor": {"condition": {"test": "abs(round(datum.value*100)) % 20 === 0", "value": "#bfbfbf"}, "value": "#ececec"},
       "ticks": false, "domain": false, "labelPadding": 9.5}},
     "color": {"field": "s", "type": "nominal", "scale": {"domain": ["期铝/废铝","现铝/废铝","期铝/现铝"], "range": ["#002060","#FF0000","#00B0F0"]},
      "legend": {"title": null, "orient": "none", "legendX": -5, "legendY": -19, "direction": "horizontal", "symbolSize": 1225, "symbolStrokeWidth": 3.5, "labelOffset": 1, "columnPadding": 1, "clipHeight": 14}}
    }
   }]},
   {"width": 424, "height": 1, "data": {"values": [{}]}, "mark": {"type": "point", "size": 0, "opacity": 0}, "view": {"fill": "#F2DCDC", "stroke": null},
    "title": {"text": "数据来源：Wind、华安期货投资咨询部", "orient": "bottom", "offset": 19.8, "baseline": "middle", "dx": 8, "fontSize": 14.5, "fontWeight": "normal"}}
  ]}
 ]},
 {"spacing": 17.75, "resolve": {"scale": {"color": "independent"}, "legend": {"color": "independent"}}, "vconcat": [
  {"spacing": 0, "vconcat": [
   {"width": 424, "height": 1, "data": {"values": [{}]}, "mark": {"type": "point", "size": 0, "opacity": 0}, "view": {"fill": "#F2DCDC", "stroke": null}},
   {"width": 424, "height": 36, "data": {"values": [{}]}, "mark": {"type": "point", "size": 0, "opacity": 0}, "view": {"fill": "white", "stroke": null},
    "title": {"text": "图：综合平均价格指数:环渤海动力煤(Q5500K)", "orient": "bottom", "offset": -15, "baseline": "middle", "dx": 8, "fontSize": 19.4}},
   {"width": 424, "height": 1, "data": {"values": [{}]}, "mark": {"type": "point", "size": 0, "opacity": 0}, "view": {"fill": "#F2DCDC", "stroke": null}}
  ]},
  {"spacing": 0, "resolve": {"scale": {"color": "independent"}, "legend": {"color": "independent"}}, "vconcat": [
   {"bounds": "flush", "spacing": 0, "resolve": {"scale": {"color": "independent"}, "legend": {"color": "independent"}}, "hconcat": [
    {"width": 77.3, "height": 262.7, "data": {"values": [{}]}, "mark": {"type": "point", "size": 0, "opacity": 0}, "view": {"fill": "white", "stroke": null}},
    {"width": 295.4, "height": 143.4,
    "data": {"values": [
     {"d":"2018/03/14","v":572},{"d":"2018/03/21","v":572},{"d":"2018/04/02","v":570},{"d":"2018/04/19","v":570},{"d":"2018/04/23","v":572},{"d":"2018/05/18","v":572},{"d":"2018/05/30","v":570},{"d":"2018/07/09","v":570},{"d":"2018/07/18","v":569},{"d":"2018/07/24","v":568},{"d":"2018/07/31","v":567},{"d":"2018/08/08","v":567},{"d":"2018/08/14","v":568},{"d":"2018/09/02","v":568},{"d":"2018/09/08","v":569},{"d":"2018/09/28","v":569},{"d":"2018/10/07","v":570},{"d":"2018/10/15","v":571},{"d":"2018/11/13","v":571},{"d":"2018/11/21","v":570},{"d":"2018/11/26","v":571},{"d":"2018/12/12","v":571},{"d":"2018/12/25","v":569},{"d":"2019/01/06","v":570},{"d":"2019/01/14","v":571},{"d":"2019/01/22","v":572},{"d":"2019/01/29","v":571},{"d":"2019/02/13","v":572},{"d":"2019/02/21","v":574},{"d":"2019/02/25","v":575},{"d":"2019/03/06","v":578},{"d":"2019/04/01","v":578},{"d":"2019/04/09","v":579},{"d":"2019/05/23","v":579},{"d":"2019/05/29","v":578},{"d":"2019/06/03","v":577},{"d":"2019/06/18","v":577},{"d":"2019/06/25","v":578},{"d":"2019/07/10","v":578},{"d":"2019/07/17","v":577},{"d":"2019/07/31","v":577},{"d":"2019/08/07","v":576}
    ]},
    "mark": {"type": "line", "strokeWidth": 4, "clip": true},
    "encoding": {
     "x": {"field": "d", "type": "temporal", "scale": {"domain": [{"year":2018,"month":3,"date":14},{"year":2019,"month":8,"date":8}]},
      "axis": {"title": null, "grid": false, "format": "%Y-%m-%d", "labelAngle": -90, "labelFontSize": 13, "tickSize": 5, "labelPadding": 8,
       "values": [{"year":2018,"month":3,"date":14},{"year":2018,"month":5,"date":14},{"year":2018,"month":7,"date":14},{"year":2018,"month":9,"date":14},{"year":2018,"month":11,"date":14},{"year":2019,"month":1,"date":14},{"year":2019,"month":3,"date":14},{"year":2019,"month":5,"date":14},{"year":2019,"month":7,"date":14}]}},
     "y": {"field": "v", "type": "quantitative", "scale": {"domain": [560, 580], "nice": false, "zero": false},
      "axis": {"title": "元/吨", "titleAngle": 0, "titleAlign": "left", "titleBaseline": "middle", "titleX": -29.3, "titleY": -20.3,
       "values": [560,561,562,563,564,565,566,567,568,569,570,571,572,573,574,575,576,577,578,579,580], "format": "d",
       "labelExpr": "datum.value % 5 === 0 ? datum.label : ''",
       "gridColor": {"condition": {"test": "datum.value % 5 === 0", "value": "#d4d4d4"}, "value": "#ececec"},
       "ticks": false, "domain": false, "labelPadding": 8}},
     "color": {"datum": "综合平均价格指数:环渤海动力煤(Q5500K)", "type": "nominal", "scale": {"domain": ["综合平均价格指数:环渤海动力煤(Q5500K)"], "range": ["#E3241C"]},
      "legend": {"title": null, "orient": "none", "legendX": 12.7, "legendY": -21.3, "direction": "horizontal", "symbolSize": 1296, "symbolStrokeWidth": 4.5, "labelOffset": 0, "clipHeight": 14}}
    }
   }]},
   {"width": 424, "height": 1, "data": {"values": [{}]}, "mark": {"type": "point", "size": 0, "opacity": 0}, "view": {"fill": "#F2DCDC", "stroke": null},
    "title": {"text": "数据来源：Wind、华安期货投资咨询部", "orient": "bottom", "offset": 19.8, "baseline": "middle", "dx": 8, "fontSize": 14.5, "fontWeight": "normal"}}
  ]}
 ]}
]}
]
}
